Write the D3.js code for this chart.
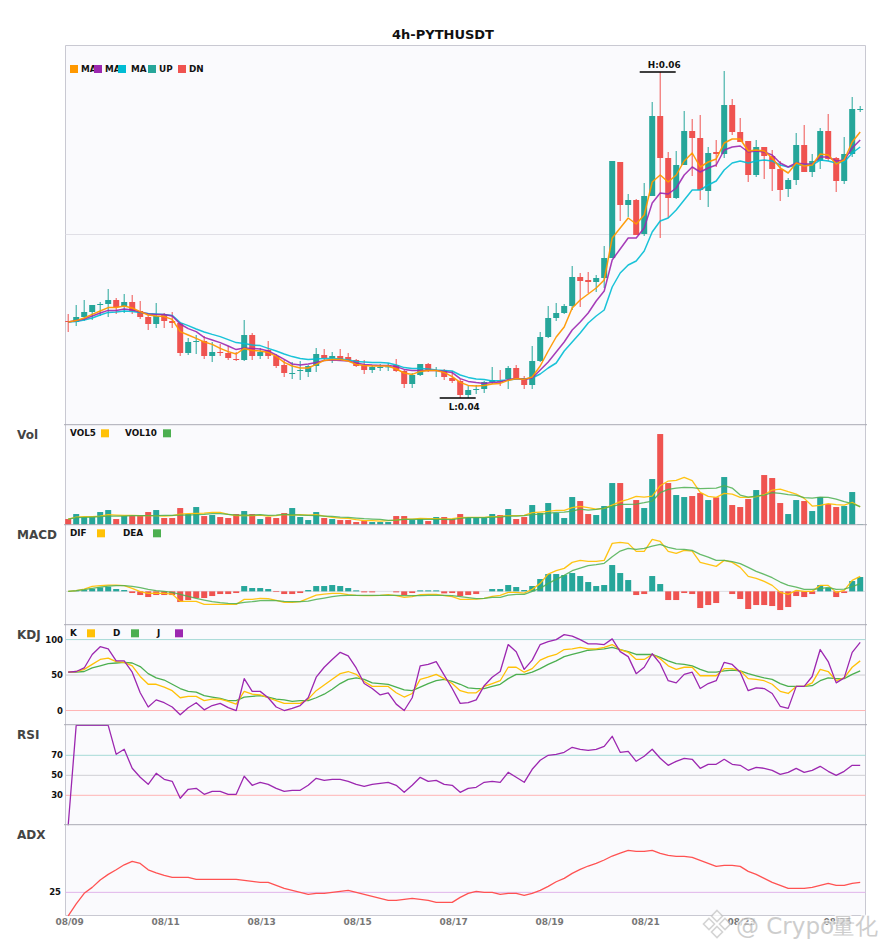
<!DOCTYPE html>
<html><head><meta charset="utf-8">
<script src="https://cdn.jsdelivr.net/npm/d3@7"></script>
<style>
html,body{margin:0;padding:0;background:#fff}
text{font-family:"DejaVu Sans",sans-serif}
svg{display:block}
</style></head><body><div id="chart"></div>
<script>
// prices in units of 0.00001 USDT
const PRICE_UNIT = 1e-5;
const opens = [4755,4750,4775,4800,4835,4840,4860,4830,4850,4805,4775,4740,4790,4755,4745,4595,4650,4655,4580,4600,4595,4565,4560,4685,4580,4610,4580,4535,4490,4505,4500,4530,4585,4570,4580,4575,4560,4535,4510,4520,4525,4535,4505,4440,4485,4540,4505,4510,4470,4455,4385,4412,4415,4450,4455,4465,4520,4470,4435,4555,4675,4770,4795,4830,4975,4960,4950,4970,5070,5550,5335,5360,5190,5380,5780,5570,5370,5535,5705,5670,5405,5600,5590,5835,5700,5655,5485,5625,5580,5515,5415,5460,5635,5500,5555,5705,5570,5455,5590,5812];
const closes = [4750,4775,4800,4835,4840,4860,4825,4850,4805,4775,4740,4780,4755,4745,4595,4650,4655,4580,4600,4595,4570,4560,4685,4580,4600,4580,4530,4495,4495,4510,4530,4590,4570,4580,4565,4560,4530,4510,4525,4525,4528,4505,4440,4485,4540,4510,4510,4475,4455,4385,4410,4415,4450,4460,4450,4520,4470,4435,4555,4675,4770,4795,4830,4975,4955,4950,4970,5070,5555,5335,5360,5185,5380,5780,5570,5370,5535,5705,5670,5410,5595,5590,5835,5700,5650,5485,5625,5580,5515,5410,5460,5635,5500,5555,5705,5565,5455,5590,5815,5815];
const highs = [4790,4835,4860,4835,4850,4915,4870,4890,4885,4855,4785,4845,4795,4800,4750,4670,4685,4680,4650,4640,4630,4600,4760,4695,4620,4655,4590,4560,4550,4555,4535,4620,4615,4600,4615,4595,4565,4560,4535,4540,4545,4565,4510,4495,4540,4545,4525,4515,4505,4465,4430,4435,4455,4525,4510,4530,4535,4480,4630,4700,4830,4845,4840,5030,4995,5000,4985,5130,5555,5550,5390,5365,5445,5850,6000,5600,5605,5805,5765,5785,5625,5660,6005,5865,5770,5655,5660,5625,5610,5555,5470,5695,5735,5590,5720,5790,5575,5675,5875,5830];
const lows = [4700,4730,4755,4760,4780,4775,4790,4795,4790,4765,4710,4720,4720,4720,4580,4585,4590,4565,4550,4580,4560,4555,4555,4560,4565,4565,4520,4475,4465,4460,4475,4500,4560,4545,4555,4555,4525,4490,4495,4505,4505,4500,4420,4420,4480,4500,4475,4460,4445,4370,4370,4390,4395,4440,4430,4415,4465,4415,4415,4550,4670,4755,4790,4810,4825,4895,4900,4920,5070,5255,5275,5185,5180,5380,5170,5270,5365,5535,5480,5360,5325,5525,5570,5685,5650,5450,5475,5465,5405,5355,5375,5435,5500,5475,5515,5555,5400,5440,5575,5800];
const ma5 = [4750,4757,4770,4788,4805,4822,4822,4830,4820,4802,4785,4780,4777,4763,4702,4685,4668,4650,4638,4618,4602,4590,4618,4608,4605,4598,4578,4548,4530,4520,4520,4538,4558,4563,4562,4555,4538,4532,4530,4530,4530,4515,4495,4488,4503,4508,4507,4498,4477,4448,4433,4430,4433,4440,4443,4458,4467,4463,4475,4530,4605,4675,4725,4820,4860,4890,4920,4960,5170,5220,5270,5240,5285,5450,5485,5450,5485,5555,5595,5525,5550,5565,5645,5665,5665,5605,5610,5605,5570,5520,5495,5545,5530,5535,5590,5585,5540,5560,5650,5700];
const ma10 = [4750,4757,4765,4780,4795,4808,4808,4815,4810,4800,4790,4787,4787,4780,4740,4717,4702,4673,4660,4647,4630,4612,4620,4618,4615,4605,4585,4563,4540,4535,4540,4548,4557,4560,4558,4555,4545,4538,4535,4533,4533,4527,4513,4507,4508,4508,4508,4503,4497,4467,4453,4447,4442,4447,4450,4462,4467,4463,4470,4510,4550,4600,4650,4710,4750,4795,4855,4905,5060,5115,5170,5170,5220,5345,5395,5390,5420,5485,5525,5500,5520,5535,5610,5625,5630,5600,5605,5600,5585,5545,5525,5545,5540,5540,5575,5575,5555,5560,5620,5660];
const ma20 = [4750,4753,4760,4770,4785,4798,4800,4805,4803,4798,4792,4790,4787,4783,4747,4732,4715,4700,4688,4677,4662,4647,4643,4635,4632,4618,4605,4590,4577,4567,4563,4565,4567,4567,4565,4560,4552,4550,4548,4547,4545,4535,4522,4517,4517,4515,4510,4508,4505,4485,4473,4465,4463,4455,4457,4460,4465,4465,4470,4490,4520,4545,4605,4650,4695,4745,4780,4810,4925,4995,5035,5055,5105,5200,5255,5270,5310,5360,5410,5410,5435,5455,5510,5545,5555,5545,5555,5560,5555,5535,5525,5535,5535,5535,5560,5555,5545,5550,5595,5625];
const mainGridValues = [5187.5];
const highIndex = 74, lowIndex = 49;

const volumes = [17,32,23,23,38,44,17,26,26,26,38,44,20,20,50,32,53,26,29,23,20,32,41,32,17,23,20,35,50,23,14,38,20,17,14,14,8,11,8,8,8,26,26,14,17,11,23,23,17,32,20,20,20,32,29,47,17,23,59,35,65,35,20,83,71,32,29,56,125,125,50,74,50,137,272,125,89,83,86,95,74,82,143,59,53,77,104,149,140,65,32,74,71,41,83,62,53,56,98,2];
const vol5 = [17,23,24,24,26,30,29,28,28,27,27,27,26,27,32,33,34,35,37,37,31,27,28,27,29,26,27,31,29,30,29,30,26,22,20,19,15,12,12,11,12,14,17,17,19,18,18,17,18,21,22,22,22,24,25,27,27,28,36,38,40,43,43,51,55,51,47,49,59,69,76,85,83,86,117,131,133,142,132,97,85,82,94,92,82,82,84,90,104,107,99,92,79,56,58,63,60,59,67,53];
const vol10 = [17,21,22,23,24,26,26,26,27,27,27,27,28,28,29,29,30,31,33,33,31,29,29,29,30,28,29,31,30,29,28,27,26,25,23,22,20,18,17,16,13,14,16,16,16,16,16,16,15,19,21,21,21,23,23,26,26,27,30,32,34,37,38,41,47,44,46,50,55,61,61,62,66,71,96,106,110,112,111,108,109,110,117,110,89,83,86,89,96,94,90,88,81,80,83,82,77,69,63,54];

const macdHist = [0,1,4,8,12,14,7,4,-5,-11,-17,-11,-11,-11,-32,-26,-20,-20,-14,-8,-8,-5,16,10,10,7,-2,-8,-8,-5,4,16,16,19,16,10,3,-3,-3,0,0,-3,-11,-5,3,3,3,-6,-5,-14,-11,-8,0,7,7,19,13,4,16,37,52,52,49,55,46,28,16,19,79,55,34,-11,-8,46,22,-26,-26,-5,-8,-50,-41,-35,0,-8,-23,-53,-41,-41,-44,-56,-47,-14,-17,-8,19,10,-17,-5,31,43];
const macdDif = [0,2,7,15,17,19,19,17,9,-1,-6,-5,-6,-8,-30,-30,-30,-39,-39,-39,-39,-39,-24,-24,-21,-22,-27,-33,-33,-31,-21,-11,-8,-6,-6,-10,-12,-13,-13,-12,-10,-13,-18,-16,-10,-9,-9,-13,-16,-24,-24,-23,-21,-15,-12,-3,-3,-5,6,24,52,62,69,87,93,90,90,93,144,147,144,120,120,156,150,120,114,123,121,87,81,75,93,87,72,45,39,30,18,-3,-9,3,0,0,18,18,-3,3,33,45];
const macdDea = [0,2,5,9,13,16,17,17,15,11,6,2,0,-3,-9,-15,-21,-26,-31,-34,-36,-37,-33,-31,-28,-27,-28,-30,-31,-31,-29,-24,-20,-16,-13,-12,-12,-12,-12,-12,-12,-12,-13,-13,-13,-12,-12,-12,-13,-16,-19,-22,-21,-18,-18,-11,-9,-9,0,9,24,36,48,62,70,77,80,84,104,121,129,126,129,136,141,132,127,126,123,111,103,93,93,89,83,72,60,51,41,28,18,13,6,6,8,12,6,7,14,23];

const kdjK = [54,55,58,65,72,74,69,68,63,48,37,37,33,28,18,20,20,14,16,16,13,9,27,23,22,18,14,10,10,10,16,28,36,44,52,55,51,41,34,34,34,25,19,24,44,47,51,45,38,28,25,25,34,38,42,61,61,54,59,71,76,79,86,87,89,87,87,89,93,86,82,72,72,79,73,63,58,61,61,49,49,49,59,59,56,45,44,42,37,27,24,34,34,39,58,55,42,46,61,70];
const kdjD = [54,54,55,60,63,66,67,68,67,62,52,46,43,37,31,27,26,21,19,17,14,14,19,20,21,19,16,15,13,14,14,18,23,30,38,44,46,44,39,38,37,33,29,28,33,38,42,44,41,37,32,31,31,34,37,45,51,51,54,59,65,70,76,79,82,85,86,87,89,86,83,79,79,79,75,70,66,65,63,58,54,54,56,57,56,52,49,46,44,38,34,34,34,35,42,46,45,45,51,56];
const kdjJ = [54,55,60,79,90,87,70,70,54,25,5,15,11,5,-6,4,11,1,7,10,4,0,45,27,27,18,5,0,3,7,18,47,61,72,82,77,60,38,31,22,25,9,0,18,63,65,69,50,31,10,11,15,35,47,55,93,83,58,71,93,97,100,107,105,100,94,94,93,101,83,76,52,61,80,66,42,39,51,54,31,38,42,68,65,54,28,32,31,24,6,3,34,34,48,86,69,39,46,82,96];
const kdjLevels = [100,50,0];

const rsiValues = [0,100,100,100,100,100,71,76,57,48,41,52,46,44,27,36,37,31,34,34,31,31,49,40,43,41,37,34,35,35,40,47,45,46,46,44,41,39,41,42,43,40,33,40,48,44,45,41,40,33,37,38,43,44,43,53,48,43,56,65,70,71,73,78,76,75,76,79,89,73,74,64,69,76,67,60,64,67,66,57,61,61,66,61,60,55,58,57,55,51,53,57,53,55,59,54,50,54,60,60];
const rsiLevels = [70,50,30];

const adxValues = [13.2,19.2,24.5,27.5,31.2,34,36.3,38.8,40.5,39.5,36.3,34.8,33.5,32.5,32.5,32.5,31.5,31.5,31.5,31.5,31.5,31.5,31,30.5,30,30,28.5,27,26,25,24,24.5,24.5,25,25.5,26,25,24,23,22,21,21,21.5,22,21.5,21,20,20,20,22.5,24.5,25.5,25,25,24,24.5,24.5,23.5,24.5,26,28,30.3,32,34.5,36.5,38.2,39.5,41.2,43.2,44.7,46,45.5,45.5,46,44.5,43.5,43,43,42.5,41,39.5,38,38.5,38.5,38,35.5,34,32,30,28.5,27,27,27,27.5,28.5,29.5,28.5,28.5,29.5,30];
const adxLevels = [25];

const xTickIndices = [0,12,24,36,48,60,72,84,96];
const xTickLabels = ["08/09","08/11","08/13","08/15","08/17","08/19","08/21","08/23","08/25"];

const UP='#26a69a', DN='#ef5350', ORANGE='#ff9800', PURPLE='#9c27b0', CYAN='#00bcd4', YEL='#ffc107', GRN='#4caf50';
const W=885,H=950, L=65.5, R=865.5;
const svg=d3.select('#chart').append('svg').attr('width',W).attr('height',H).attr('viewBox',`0 0 ${W} ${H}`);
const n=opens.length, idx=d3.range(n);
const x=d3.scaleBand().domain(idx).range([64.2,864.2]);
const cx=i=>x(i)+x.bandwidth()/2;
const barW=6;

const yMain=d3.scaleLinear().domain([4237.5,6135]).range([424.5,45]);
const yVol=d3.scaleLinear().domain([0,300]).range([524.7,424.7]);
const yMacd=d3.scaleLinear().domain([-100,200]).range([624.7,524.7]);
const yKdj=d3.scaleLinear().domain([-20,121]).range([724.7,624.7]);
const yRsi=d3.scaleLinear().domain([0,100]).range([825.3,725.3]);
const yAdx=d3.scaleLinear().domain([13.4,58.9]).range([915.5,824.7]);

// plot background + frame
svg.append('rect').attr('x',L).attr('y',45).attr('width',R-L).attr('height',870.5).attr('fill','#fafafd');
svg.append('path').attr('d',`M${L},915.5V45.5H${R}V915.5H${L}`).attr('fill','none').attr('stroke','#c9c9d2').attr('stroke-width',1);

function lineOf(values,y){return d3.line().x((d,i)=>cx(i)).y(d=>y(d))(values);}
function level(y,v,color,label,lx){
  svg.append('line').attr('x1',L).attr('x2',R).attr('y1',y(v)).attr('y2',y(v)).attr('stroke',color).attr('stroke-width',1);
  if(label!==undefined) svg.append('text').attr('x',lx||63).attr('y',y(v)).attr('dy','0.36em').attr('text-anchor','end')
    .attr('font-size',8.5).attr('font-weight','bold').attr('fill','#111').text(label);
}
function plot(values,y,color,w,op){
  svg.append('path').attr('d',lineOf(values,y)).attr('fill','none').attr('stroke',color).attr('stroke-width',w||1.3).attr('stroke-linejoin','round').attr('opacity',op===undefined?1:op);
}
function legend(items,yPos,fs){
  items.forEach(it=>{
    if(it.text!==undefined) svg.append('text').attr('x',it.tx).attr('y',yPos).attr('dy','0.36em').attr('font-size',fs||8.8).attr('font-weight','bold').attr('fill','#111').text(it.text);
  });
  items.forEach(it=>{
    svg.append('rect').attr('x',it.sx).attr('y',yPos-4).attr('width',8).attr('height',8).attr('fill',it.color);
  });
}

// main panel
mainGridValues.forEach(v=>level(yMain,v,'#e0dfe6'));
const candles=svg.append('g');
candles.selectAll('line').data(idx).join('line')
  .attr('x1',i=>cx(i)).attr('x2',i=>cx(i)).attr('y1',i=>yMain(highs[i])).attr('y2',i=>yMain(lows[i]))
  .attr('stroke',i=>closes[i]>=opens[i]?UP:DN).attr('stroke-width',1);
candles.selectAll('rect').data(idx).join('rect')
  .attr('x',i=>cx(i)-barW/2).attr('width',barW)
  .attr('y',i=>yMain(Math.max(opens[i],closes[i])))
  .attr('height',i=>Math.max(1,Math.abs(yMain(opens[i])-yMain(closes[i]))))
  .attr('fill',i=>closes[i]>=opens[i]?UP:DN);
plot(ma20,yMain,CYAN,1.5,.9);
plot(ma10,yMain,PURPLE,1.5,.9);
plot(ma5,yMain,ORANGE,1.5,.95);

legend([
 {text:'MA',tx:81,sx:70,color:ORANGE},
 {text:'MA',tx:105,sx:94,color:PURPLE},
 {text:'MA',tx:131,sx:118,color:CYAN},
 {text:'UP',tx:159,sx:148,color:UP},
 {text:'DN',tx:189,sx:178,color:DN}],69);

// high / low markers
const fmt=d3.format('.2f');
function marker(i,v,prefix,ty){
  svg.append('line').attr('x1',cx(i)-20.5).attr('x2',cx(i)+15.5).attr('y1',yMain(v)).attr('y2',yMain(v)).attr('stroke','#000').attr('stroke-width',1.4);
  svg.append('text').attr('x',cx(i)+4).attr('y',yMain(v)+ty).attr('dy','0.36em').attr('text-anchor','middle')
    .attr('font-size',8.9).attr('font-weight','bold').attr('fill','#111').text(prefix+fmt(v*PRICE_UNIT));
}
marker(highIndex,highs[highIndex],'H:',-7);
marker(lowIndex,lows[lowIndex],'L:',8.5);

// volume
const volG=svg.append('g');
volG.selectAll('rect').data(idx).join('rect')
  .attr('x',i=>cx(i)-barW/2).attr('width',barW)
  .attr('y',i=>yVol(volumes[i])).attr('height',i=>yVol(0)-yVol(volumes[i]))
  .attr('fill',i=>closes[i]>=opens[i]?UP:DN);
plot(vol5,yVol,YEL,1.3,.95);
plot(vol10,yVol,GRN,1.3,.85);
legend([{text:'VOL5',tx:70,sx:101,color:YEL},{text:'VOL10',tx:125,sx:163,color:GRN}],433.3);

// MACD
level(yMacd,0,'#dddde2');
const macdG=svg.append('g');
macdG.selectAll('rect').data(idx).join('rect')
  .attr('x',i=>cx(i)-barW/2).attr('width',barW)
  .attr('y',i=>yMacd(Math.max(0,macdHist[i]))).attr('height',i=>Math.abs(yMacd(macdHist[i])-yMacd(0)))
  .attr('fill',i=>macdHist[i]>=0?UP:DN);
plot(macdDif,yMacd,YEL,1.3,.95);
plot(macdDea,yMacd,GRN,1.3,.85);
legend([{text:'DIF',tx:70,sx:97,color:YEL},{text:'DEA',tx:123,sx:153,color:GRN}],533.3);

// KDJ
const levelColors=['#a6dad6','#cfcfd4','#ffb4b4'];
kdjLevels.forEach((v,k)=>level(yKdj,v,levelColors[k],String(v)));
plot(kdjD,yKdj,GRN);
plot(kdjK,yKdj,YEL);
plot(kdjJ,yKdj,PURPLE);
legend([{text:'K',tx:70,sx:87,color:YEL},{text:'D',tx:113,sx:131,color:GRN},{text:'J',tx:157,sx:175,color:PURPLE}],633.3);

// RSI
rsiLevels.forEach((v,k)=>level(yRsi,v,levelColors[k],String(v)));
plot(rsiValues,yRsi,PURPLE);

// ADX
adxLevels.forEach(v=>level(yAdx,v,'#e0b4ea',String(v),61));
plot(adxValues,yAdx,'#ff5252');

// separators
[424.7,524.7,624.7,724.7,824.7].forEach(s=>{
  svg.append('line').attr('x1',64).attr('x2',867).attr('y1',s).attr('y2',s).attr('stroke','#aaaab4').attr('stroke-width',1);
});

// panel names
[['Vol',439],['MACD',539],['KDJ',639],['RSI',739],['ADX',839]].forEach(([t,ty])=>{
  svg.append('text').attr('x',17).attr('y',ty).attr('font-size',12).attr('font-weight','bold').attr('fill','#444').text(t);
});

// title
svg.append('text').attr('x',443).attr('y',34).attr('dy','0.36em').attr('text-anchor','middle').attr('font-size',13).attr('font-weight','bold').attr('fill','#111').text('4h-PYTHUSDT');

// x axis labels
const axis=d3.axisBottom(x).tickValues(xTickIndices).tickSize(0).tickFormat((d,i)=>xTickLabels[i]);
const axG=svg.append('g').attr('transform','translate(1.5,915.5)').call(axis);
axG.select('.domain').remove();
axG.selectAll('text').attr('font-size',9).attr('font-weight','bold').attr('fill','#777').attr('font-family','"DejaVu Sans",sans-serif').attr('y',3).attr('dy','0.71em');

// watermark
const wm=svg.append('g').attr('opacity',.75);
const dia=(cxp,cyp,r)=>`M${cxp},${cyp-r}L${cxp+r},${cyp}L${cxp},${cyp+r}L${cxp-r},${cyp}Z`;
[[717,916,5.5],[709,924,5.5],[725,924,5.5],[717,932,5.5]].forEach(a=>{
  wm.append('path').attr('d',dia(...a)).attr('fill','#fff').attr('stroke','#c6c6c6').attr('stroke-width',1.6);
});
wm.append('text').attr('x',736).attr('y',934).attr('font-size',23).attr('fill','#bdbdbd').attr('stroke','#fff').attr('stroke-width',2.5).attr('paint-order','stroke')
  .attr('font-family','"DejaVu Sans","Noto Sans CJK SC",sans-serif').text('@ Crypo');
wm.append('text').attr('x',832).attr('y',934).attr('font-size',23).attr('fill','#bdbdbd').attr('stroke','#fff').attr('stroke-width',2.5).attr('paint-order','stroke')
  .attr('font-family','"Noto Sans CJK SC",sans-serif').text('量化');
</script></body></html>
